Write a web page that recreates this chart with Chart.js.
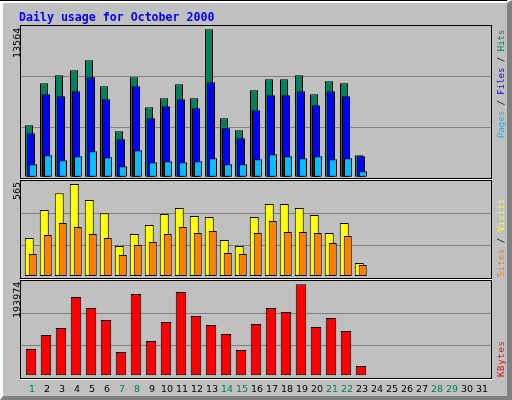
<!DOCTYPE html>
<html>
<head>
<meta charset="utf-8">
<script src="https://cdn.jsdelivr.net/npm/chart.js@4.4.1/dist/chart.umd.min.js"></script>
<style>
  html, body { margin: 0; padding: 0; background: #c0c0c0; overflow: hidden; }
  #frame {
    position: absolute; left: 0; top: 0; width: 512px; height: 400px; box-sizing: border-box;
    background: #c0c0c0;
    border-top: 3px solid #fff; border-left: 3px solid #fff;
    border-right: 5px solid #808080; border-bottom: 4px solid #808080;
  }
  #frame::before { content: ""; position: absolute; left: -3px; top: -3px; width: 507px; height: 1px; background: #000; }
  canvas { position: absolute; left: 0; top: 0; }
  #title {
    position: absolute; left: 19px; top: 9.5px; color: #0000ff; white-space: nowrap; line-height: 1;
    font: bold 11.6px "DejaVu Sans Mono", monospace;
  }
  .up { position: absolute; white-space: nowrap; line-height: 1; transform-origin: 0 0; transform: rotate(-90deg); }
  .num { font: 9.5px "DejaVu Sans", sans-serif; color: #000; }
  .key { font: 9px "DejaVu Sans Mono", monospace; color: #000; }
</style>
</head>
<body>
<div id="frame"></div>
<canvas id="c1" width="512" height="400"></canvas>
<canvas id="c2" width="512" height="400"></canvas>
<canvas id="c3" width="512" height="400"></canvas>
<div id="title">Daily usage for October 2000</div>
<script>
// day labels on the bottom axis, weekend days drawn in green
const days = [1, 2, 3, 4, 5, 6, 7, 8, 9, 10, 11, 12, 13, 14, 15, 16,
  17, 18, 19, 20, 21, 22, 23, 24, 25, 26, 27, 28, 29, 30, 31];
const weekendDays = [1, 7, 8, 14, 15, 21, 22, 28, 29];

// values, days 1..23
const hits = [4730, 8595, 9331, 9791, 10711, 8319, 4178, 9147, 6386, 7214, 8503, 7214,
  13564, 5374, 4270, 7950, 8963, 8963, 9331, 7582, 8779, 8595, 1969];
const files = [3994, 7582, 7398, 7858, 9147, 7122, 3442, 8319, 5374, 6478, 7122, 6294,
  8687, 4454, 3534, 6110, 7490, 7490, 7858, 6570, 7858, 7398, 1877];
const pages = [1141, 1969, 1509, 1877, 2337, 1785, 957, 2429, 1325, 1417, 1325, 1417,
  1693, 1141, 1141, 1601, 2061, 1877, 1693, 1877, 1601, 1693, 497];
const visits = [233, 405, 508, 565, 467, 385, 184, 258, 313, 381, 418, 368,
  362, 221, 184, 362, 442, 442, 418, 375, 264, 325, 80];
const sites = [135, 252, 325, 301, 258, 233, 129, 190, 209, 258, 301, 264,
  276, 141, 135, 264, 338, 270, 270, 264, 203, 246, 68];
const kbytes = [56061, 85904, 100825, 166902, 143455, 117878, 49666, 173297, 73113, 113614, 177560, 126402,
  107219, 88035, 53929, 109350, 143455, 134929, 193974, 102957, 122139, 94429, 19824];

// labels at the top of each panel's left edge
const maxLabels = ["13564", "565", "193974"];

const C = {
  hits: "#00805c", files: "#0000ff", pages: "#00c0ff",
  visits: "#ffff00", sites: "#ff8000", kbytes: "#ff0000",
  grid: "#808080",
};

// boxed panel outline (black rect, white line below)
const panelBox = {
  id: "panelBox",
  afterDraw(chart, args, opts) {
    const { ctx } = chart;
    const [top, bottom] = opts.box;
    ctx.save();
    ctx.lineWidth = 1;
    ctx.strokeStyle = "#000";
    ctx.strokeRect(20.5, top + 0.5, 471, bottom - top);
    ctx.strokeStyle = "#fff";
    ctx.beginPath();
    ctx.moveTo(21, bottom + 1.5);
    ctx.lineTo(492, bottom + 1.5);
    ctx.stroke();
    ctx.restore();
  },
};

// webalizer stacks the overlapping bars left = back, right = front
const backToFront = {
  id: "backToFront",
  beforeDatasetsDraw(chart) {
    chart.getSortedVisibleDatasetMetas().forEach((m) => m.controller.draw());
    return false;
  },
};

const pts = (vals) => vals.map((v, i) => ({ x: days[i], y: v }));
const bar = (vals, color, cat, pct) => ({
  data: pts(vals),
  backgroundColor: color,
  borderColor: "#000",
  borderWidth: 1,
  borderSkipped: false,
  categoryPercentage: cat,
  barPercentage: pct,
});

function xScale(show) {
  return {
    type: "linear",
    min: 0.2667,
    max: 31.667,
    offset: false,
    display: show,
    grid: { display: false, offset: false, drawTicks: false },
    border: { display: false },
    afterBuildTicks: (s) => { s.ticks = days.map((v) => ({ value: v })); },
    afterFit: (s) => { if (show) s.height = 22; },
    ticks: {
      autoSkip: false,
      maxRotation: 0,
      padding: 6,
      labelOffset: 1,
      font: { family: "DejaVu Sans", size: 9.5 },
      color: (ctx) => (weekendDays.includes(ctx.tick.value) ? C.hits : "#000"),
      callback: (v) => String(v),
    },
  };
}

function yScale(min, max) {
  return {
    min,
    max,
    ticks: { display: false },
    grid: { color: C.grid, drawTicks: false },
    border: { display: false },
    afterBuildTicks: (s) => {
      const step = (s.max - s.min) / 3;
      s.ticks = [{ value: s.min + step }, { value: s.min + 2 * step }];
    },
    afterFit: (s) => { s.width = 0; },
  };
}

function panel(id, datasets, y, area, box, showX, extra) {
  return new Chart(document.getElementById(id), {
    type: "bar",
    data: { datasets },
    options: {
      responsive: false,
      animation: false,
      devicePixelRatio: 1,
      layout: {
        padding: { left: 20, right: 21, top: area[0], bottom: 400 - area[1] - (showX ? 22 : 0) },
      },
      plugins: {
        legend: { display: false },
        tooltip: { enabled: false },
        panelBox: { box },
      },
      scales: { x: xScale(showX), y: yScale(y[0], y[1]) },
    },
    plugins: [panelBox].concat(extra),
  });
}

panel("c1", [
  bar(hits, C.hits, 0.4, 4),
  bar(files, C.files, 0.4, 4),
  bar(pages, C.pages, 0.4, 4),
], [-120, 13867], [26, 178], [25, 178], false, [backToFront]);

panel("c2", [
  bar(visits, C.visits, 0.4667, 2.571),
  bar(sites, C.sites, 0.4667, 2.286),
], [-12.3, 583.4], [181, 278], [180, 278], false, [backToFront]);

panel("c3", [
  bar(kbytes, C.kbytes, 1, 0.7),
], [-5755, 201008], [281, 378], [280, 378], true, []);

// rotated text, reading bottom to top
function upLabel(cls, parts, left, bottom, spacing) {
  const d = document.createElement("div");
  d.className = "up " + cls;
  d.style.left = left + "px";
  d.style.top = bottom + "px";
  if (spacing) d.style.letterSpacing = spacing + "px";
  parts.forEach(([t, col]) => {
    const s = document.createElement("span");
    s.textContent = t;
    if (col) s.style.color = col;
    d.appendChild(s);
  });
  document.body.appendChild(d);
}

upLabel("num", [[maxLabels[0]]], 11, 57.5);
upLabel("num", [[maxLabels[1]]], 11, 199.5);
upLabel("num", [[maxLabels[2]]], 11, 317.5);

upLabel("key", [["Pages", C.pages], [" / "], ["Files", C.files], [" / "], ["Hits", C.hits]], 496, 137.5);
upLabel("key", [["Sites", C.sites], [" / "], ["Visits", C.visits]], 496, 277, 0.2);
upLabel("key", [["KBytes", C.kbytes]], 496, 377, 0.7);
</script>
</body>
</html>
